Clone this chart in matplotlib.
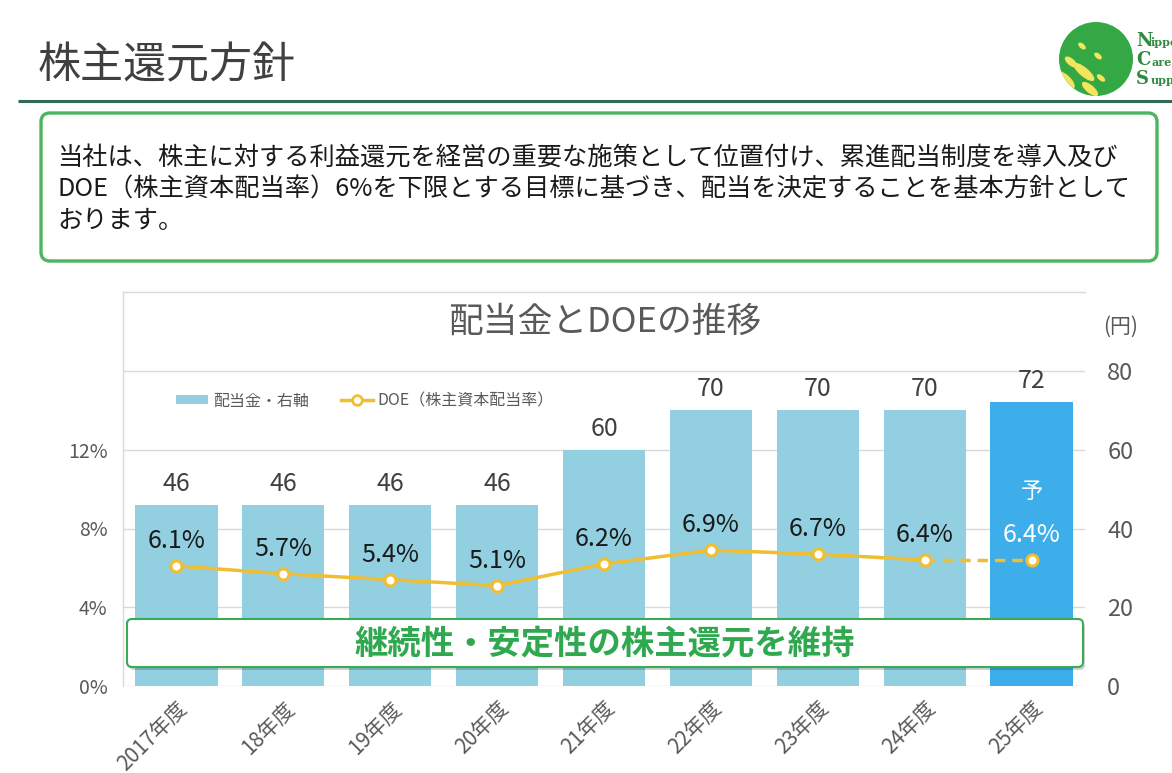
import matplotlib
matplotlib.use("Agg")
import matplotlib.pyplot as plt
from matplotlib.patches import FancyBboxPatch, Circle, Ellipse
from matplotlib.lines import Line2D
from matplotlib.patches import Patch

plt.rcParams['font.family'] = ['Noto Sans CJK JP', 'DejaVu Sans']

# ---- data ----
categories = ['2017年度', '18年度', '19年度', '20年度', '21年度', '22年度', '23年度', '24年度', '25年度']
dividends = [46, 46, 46, 46, 60, 70, 70, 70, 72]
doe = [6.1, 5.7, 5.4, 5.1, 6.2, 6.9, 6.7, 6.4, 6.4]
doe_labels = ['6.1%', '5.7%', '5.4%', '5.1%', '6.2%', '6.9%', '6.7%', '6.4%', '6.4%']
yen_ticks = [0, 20, 40, 60, 80]
pct_ticks = [0, 4, 8, 12]
pct_ticklabels = ['0%', '4%', '8%', '12%']

page_title = '株主還元方針'
policy_lines = [
    '当社は、株主に対する利益還元を経営の重要な施策として位置付け、累進配当制度を導入及び',
    'DOE（株主資本配当率）6%を下限とする目標に基づき、配当を決定することを基本方針として',
    'おります。',
]
chart_title = '配当金とDOEの推移'
banner_text = '継続性・安定性の株主還元を維持'
legend_bar = '配当金・右軸'
legend_line = 'DOE（株主資本配当率）'

# ---- styles ----
W, H = 1172, 773
GRAY = '#595959'
BAR = '#92CFE0'
BAR_F = '#3DAEE9'
LINE = '#F0BE32'
GRID = '#D9D9D9'
GREEN = '#3AAA55'

fig = plt.figure(figsize=(W / 100, H / 100), dpi=100)

def px(x0, y_top, w, h):
    return [x0 / W, 1 - (y_top + h) / H, w / W, h / H]

# main chart axes (yen scale for bars)
ax_top, ax_bot = 292, 686
ax = fig.add_axes(px(123, ax_top, 1085 - 123, ax_bot - ax_top))
ax2 = ax.twinx()
scale_ratio = (ax_bot - ax_top) / (686 - 371)
ax.set_ylim(0, 80 * scale_ratio)
ax.set_xlim(-0.5, len(categories) - 0.5)
x = list(range(len(categories)))
colors = [BAR] * (len(categories) - 1) + [BAR_F]
ax.bar(x, dividends, width=0.77, color=colors, zorder=2)
ax.set_yticks(yen_ticks)
ax.yaxis.tick_right()
ax.tick_params(axis='y', length=0, pad=16, labelsize=17, labelcolor=GRAY,
               left=False, labelleft=False, right=True, labelright=True)
ax.grid(axis='y', color=GRID, lw=1, zorder=0)
ax.set_axisbelow(True)
for s in ['right', 'bottom']:
    ax.spines[s].set_visible(False)
for s in ['left', 'top']:
    ax.spines[s].set_color(GRID)
    ax.spines[s].set_linewidth(1)
ax.set_xticks(x)
ax.set_xticklabels(categories, rotation=45, ha='right', va='top',
                   rotation_mode='anchor', fontsize=15, color=GRAY)
ax.tick_params(axis='x', length=0, pad=8)

for i, v in enumerate(dividends):
    ax.annotate(str(v), (i, v), xytext=(0, 8), textcoords='offset pixels',
                ha='center', va='bottom', fontsize=18, color='#404040')

# DOE axis
ax2.set_ylim(0, 16 * scale_ratio)
ax2.set_yticks(pct_ticks)
ax2.set_yticklabels(pct_ticklabels)
ax2.tick_params(axis='y', length=0, pad=11, labelsize=14, labelcolor=GRAY,
                left=True, labelleft=True, right=False, labelright=False)
for s in ax2.spines.values():
    s.set_visible(False)
n = len(doe)
ax2.plot(x[:n - 1], doe[:n - 1], color=LINE, lw=2.5, zorder=3)
ax2.plot(x[n - 2:], doe[n - 2:], color=LINE, lw=2.5, ls=(0, (3, 2)), zorder=3)
ax2.plot(x, doe, ls='none', marker='o', ms=8, mfc='white', mec=LINE, mew=2.2, zorder=4)
for i, (v, lab) in enumerate(zip(doe, doe_labels)):
    c = 'white' if i == n - 1 else '#1A1A1A'
    ax2.annotate(lab, (i, v), xytext=(0, 25), textcoords='offset pixels',
                 ha='center', va='center', fontsize=18, color=c)
ax2.annotate('予', (n - 1, doe[-1]), xytext=(0, 68), textcoords='offset pixels',
             ha='center', va='center', fontsize=16, color='white')

# legend
handles = [Patch(facecolor=BAR, edgecolor='none'),
           Line2D([], [], color=LINE, lw=2.5, marker='o', ms=7, mfc='white', mec=LINE, mew=2)]
fig.legend(handles, [legend_bar, legend_line], loc='center left',
           bbox_to_anchor=(170 / W, 1 - 401 / H), ncol=2, frameon=False,
           fontsize=11.5, labelcolor=GRAY, handlelength=2.0, handleheight=0.5,
           handletextpad=0.3, columnspacing=2.0, borderaxespad=0)

# overlay for page decorations
ov = fig.add_axes([0, 0, 1, 1], zorder=10)
ov.set_xlim(0, W)
ov.set_ylim(H, 0)
ov.axis('off')
ov.patch.set_alpha(0)

ov.text(38, 66, page_title, fontsize=31, color='#404040', va='center', ha='left')
ov.plot([18, W], [101, 101], color='#2E6B52', lw=2.2, solid_capstyle='butt')

box = FancyBboxPatch((41, 113), 1116, 148, boxstyle='round,pad=0,rounding_size=9',
                     fc='white', ec='#4CB560', lw=2.4)
ov.add_patch(box)
for line, yy in zip(policy_lines, [158, 190, 221]):
    ov.text(57, yy, line, fontsize=18.2, color='#1A1A1A', va='center', ha='left')

ov.text(605, 322, chart_title, fontsize=25, color=GRAY, ha='center', va='center')
ov.text(1121, 327, '(円)', fontsize=15, color=GRAY, ha='center', va='center')

# banner
shadow = FancyBboxPatch((129, 622), 956, 48, boxstyle='round,pad=0,rounding_size=5',
                        fc='#000000', ec='none', alpha=0.18)
ov.add_patch(shadow)
banner = FancyBboxPatch((127, 619), 956, 48, boxstyle='round,pad=0,rounding_size=5',
                        fc='white', ec=GREEN, lw=1.5)
ov.add_patch(banner)
ov.text(605, 644, banner_text, fontsize=24, fontweight='bold', color='#2FA84F',
        ha='center', va='center')

# logo
circ = Circle((1096, 59), 37, fc='#35A846', ec='none')
ov.add_patch(circ)
for (cx, cy, w, h, ang) in [(1082, 46, 9, 5, 40), (1098, 56, 9, 5, 40),
                            (1071, 62, 15, 7, 40), (1084, 72, 26, 9, 40),
                            (1101, 78, 10, 5, 40), (1064, 80, 26, 12, 40),
                            (1090, 89, 20, 8, 40)]:
    e = Ellipse((cx, cy), w, h, angle=ang, fc='#F4E55C', ec='none')
    e.set_clip_path(circ)
    ov.add_patch(e)
for (yy, big, small) in [(41, 'N', 'ippo'), (60, 'C', 'are'), (79, 'S', 'uppl')]:
    ov.text(1136, yy, big, fontsize=13, fontweight='bold', color='#2E8B3E',
            family='DejaVu Serif', va='center', ha='left')
    ov.text(1151, yy + 2, small, fontsize=8, fontweight='bold', color='#2E8B3E',
            family='DejaVu Serif', va='center', ha='left')

fig.savefig('out.png', dpi=100)
